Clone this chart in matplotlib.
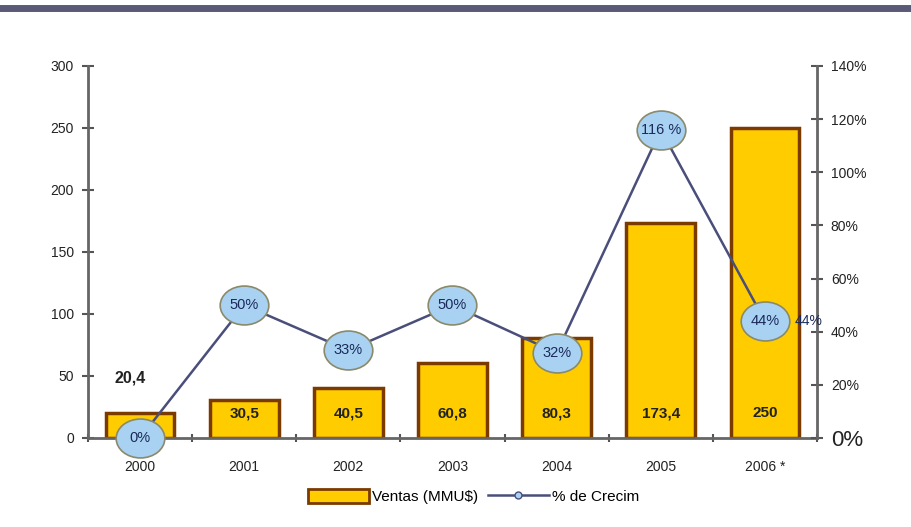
import matplotlib.pyplot as plt
from matplotlib.lines import Line2D
from matplotlib.patches import Patch
from matplotlib.path import Path
from matplotlib.transforms import Affine2D

years = ['2000', '2001', '2002', '2003', '2004', '2005', '2006 *']
ventas = [20.4, 30.5, 40.5, 60.8, 80.3, 173.4, 250]
ventas_lbl = ['20,4', '30,5', '40,5', '60,8', '80,3', '173,4', '250']
crecim = [0, 50, 33, 50, 32, 116, 44]
crecim_lbl = ['0%', '50%', '33%', '50%', '32%', '116 %', '44%']

plt.rcParams['font.family'] = ['Liberation Sans', 'DejaVu Sans']

# elliptical bubble marker
ellipse = Path.unit_circle().transformed(Affine2D().scale(1.0, 0.8))

fig = plt.figure(figsize=(9.11, 5.27), dpi=100)
ax = fig.add_axes([0.0966, 0.1689, 0.8002, 0.7059])
ax2 = ax.twinx()

x = list(range(len(years)))
ax.bar(x, ventas, width=0.66, color='#FFCC00', edgecolor='#7A3A00', linewidth=2.5, zorder=2)
ax.set_xlim(-0.5, len(years) - 0.5)
ax.set_ylim(0, 300)
ax.set_yticks(range(0, 301, 50))
ax.set_xticks(x)
ax.set_xticklabels(years, fontsize=10, color='#222222')
ax.set_xticks([i + 0.5 for i in range(-1, len(years))], minor=True)
ax.tick_params(axis='x', which='major', length=0, pad=16)
ax.tick_params(axis='x', which='minor', length=6, direction='inout', width=1.5, color='#555555')
ax.tick_params(axis='y', length=8, direction='inout', width=1.5, color='#555555', labelsize=10, labelcolor='#222222', pad=6)

for i, (v, t) in enumerate(zip(ventas, ventas_lbl)):
    if i == 0:
        ax.text(i - 0.1, v + 28, t, ha='center', va='center', fontsize=11.5, fontweight='bold', color='#222222', zorder=5)
    else:
        ax.text(i, 20, t, ha='center', va='center', fontsize=11, fontweight='bold', color='#222222', zorder=5)

ax2.set_ylim(0, 140)
ax2.set_yticks(range(0, 141, 20))
ax2.set_yticklabels(['0%'] + ['%d%%' % v for v in range(20, 141, 20)])
ax2.tick_params(axis='y', length=8, direction='inout', width=1.5, color='#555555', labelsize=10, labelcolor='#222222', pad=6)
ax2.get_yticklabels()[0].set_fontsize(16)
ax2.plot(x, crecim, color='#4A4E7A', linewidth=1.8, marker=ellipse, markersize=35,
         markerfacecolor='#A9D2F2', markeredgecolor='#8A8A6A', markeredgewidth=1.2, zorder=4, clip_on=False)
for i, (v, t) in enumerate(zip(crecim, crecim_lbl)):
    ax2.text(i, v, t, ha='center', va='center', fontsize=10.5, color='#1A2A5A', zorder=6)
ax2.text(6.42, crecim[6], crecim_lbl[6], ha='center', va='center', fontsize=10, color='#1A2A5A', zorder=6)

for a in (ax, ax2):
    a.spines['top'].set_visible(False)
for s in ['left', 'bottom']:
    ax.spines[s].set_color('#666666')
    ax.spines[s].set_linewidth(2)
ax.spines['right'].set_visible(False)
ax2.spines['left'].set_visible(False)
ax2.spines['bottom'].set_visible(False)
ax2.spines['right'].set_color('#666666')
ax2.spines['right'].set_linewidth(2)
ax.set_zorder(1)
ax2.set_zorder(2)
ax2.patch.set_visible(False)

# top banner line
fig.add_artist(Line2D([0, 1], [0.985, 0.985], transform=fig.transFigure, color='#5A5A78', linewidth=5))

handles = [Patch(facecolor='#FFCC00', edgecolor='#7A3A00', linewidth=2),
           Line2D([], [], color='#4A4E7A', linewidth=1.8, marker='o', markersize=5,
                  markerfacecolor='#A9D2F2', markeredgecolor='#4A4E7A')]
fig.legend(handles, ['Ventas (MMU$)', '% de Crecim'], loc='center', bbox_to_anchor=(0.52, 0.057),
           ncol=2, frameon=False, fontsize=11, handlelength=4, handleheight=1.0,
           columnspacing=0.6, handletextpad=0.2)

fig.savefig('out.png', dpi=100)
